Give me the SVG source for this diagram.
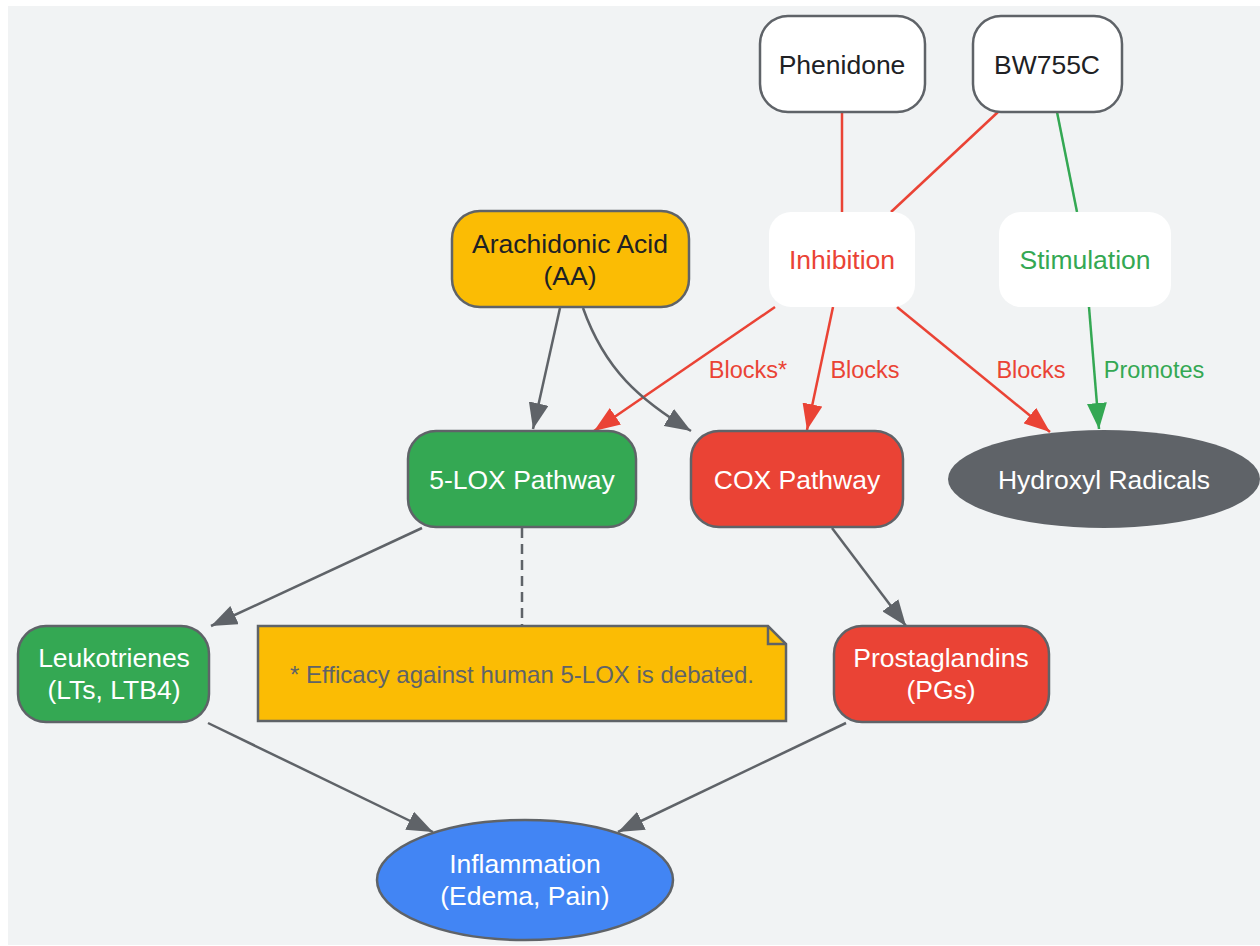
<svg xmlns="http://www.w3.org/2000/svg" width="1260" height="946" viewBox="0 0 1260 946">
<defs>
<style>
text{font-family:"Liberation Sans",Arial,sans-serif;text-anchor:middle;dominant-baseline:central}
.n{font-size:26.5px}
.e{font-size:23.5px}
.dark{fill:#202124}
.white{fill:#ffffff}
.box{stroke:#5f6368;stroke-width:2.5}
.c{fill:none;stroke-width:2.5}
.g{stroke:#5f6368}
.r{stroke:#ea4335}
.gr{stroke:#34a853}
</style>
<marker id="ag" viewBox="0 0 26 20" refX="26" refY="10" markerWidth="26" markerHeight="20" markerUnits="userSpaceOnUse" orient="auto"><path d="M0,0 L26,10 L0,20 z" fill="#5f6368"/></marker>
<marker id="ar" viewBox="0 0 26 20" refX="26" refY="10" markerWidth="26" markerHeight="20" markerUnits="userSpaceOnUse" orient="auto"><path d="M0,0 L26,10 L0,20 z" fill="#ea4335"/></marker>
<marker id="agr" viewBox="0 0 26 20" refX="26" refY="10" markerWidth="26" markerHeight="20" markerUnits="userSpaceOnUse" orient="auto"><path d="M0,0 L26,10 L0,20 z" fill="#34a853"/></marker>
</defs>
<rect x="0" y="0" width="1260" height="946" fill="#ffffff"/>
<rect x="8" y="6" width="1252" height="939" fill="#f1f3f4"/>

<g id="connectors">
<line class="c r" x1="842" y1="112" x2="842" y2="212"/>
<line class="c r" x1="998" y1="112" x2="891" y2="212"/>
<line class="c gr" x1="1057" y1="112" x2="1077" y2="212"/>
<line class="c r" x1="775" y1="307" x2="594" y2="431" marker-end="url(#ar)"/>
<line class="c r" x1="833" y1="307" x2="807" y2="430" marker-end="url(#ar)"/>
<line class="c r" x1="897" y1="307" x2="1050" y2="432" marker-end="url(#ar)"/>
<line class="c gr" x1="1089" y1="307" x2="1099" y2="429" marker-end="url(#agr)"/>
<line class="c g" x1="560" y1="308" x2="533" y2="429" marker-end="url(#ag)"/>
<path class="c g" d="M583,308 C605,370 640,400 691,431" marker-end="url(#ag)"/>
<line class="c g" x1="422" y1="528" x2="211" y2="626" marker-end="url(#ag)"/>
<line class="c g" x1="522" y1="528" x2="522" y2="626" stroke-dasharray="10,6"/>
<line class="c g" x1="832" y1="528" x2="906" y2="626" marker-end="url(#ag)"/>
<line class="c g" x1="208" y1="723" x2="433" y2="832" marker-end="url(#ag)"/>
<line class="c g" x1="846" y1="723" x2="618" y2="832" marker-end="url(#ag)"/>
<text class="e" x="748" y="370" fill="#ea4335">Blocks*</text>
<text class="e" x="865" y="370" fill="#ea4335">Blocks</text>
<text class="e" x="1031" y="370" fill="#ea4335">Blocks</text>
<text class="e" x="1154" y="370" fill="#34a853">Promotes</text>
</g>

<g id="phenidone">
<rect class="box" x="760" y="16" width="165" height="96" rx="28" fill="#ffffff"/>
<text class="n dark" x="842" y="65">Phenidone</text>
</g>
<g id="bw755c">
<rect class="box" x="973" y="16" width="149" height="96" rx="28" fill="#ffffff"/>
<text class="n dark" x="1047" y="65">BW755C</text>
</g>
<g id="inhibition">
<rect x="769" y="212" width="146" height="95" rx="22" fill="#ffffff"/>
<text class="n" x="842" y="260" fill="#ea4335">Inhibition</text>
</g>
<g id="stimulation">
<rect x="999" y="212" width="172" height="95" rx="22" fill="#ffffff"/>
<text class="n" x="1085" y="260" fill="#34a853">Stimulation</text>
</g>
<g id="aa">
<rect class="box" x="452" y="211" width="237" height="96" rx="28" fill="#fbbc04"/>
<text class="n dark" x="570" y="244">Arachidonic Acid</text>
<text class="n dark" x="570" y="276">(AA)</text>
</g>
<g id="lox">
<rect class="box" x="408" y="431" width="228" height="96" rx="28" fill="#34a853"/>
<text class="n white" x="522" y="480">5-LOX Pathway</text>
</g>
<g id="cox">
<rect class="box" x="691" y="431" width="212" height="96" rx="28" fill="#ea4335"/>
<text class="n white" x="797" y="480">COX Pathway</text>
</g>
<g id="hydroxyl">
<ellipse cx="1104" cy="479" rx="156" ry="49" fill="#5f6368"/>
<text class="n white" x="1104" y="480">Hydroxyl Radicals</text>
</g>
<g id="leukotrienes">
<rect class="box" x="18" y="626" width="191" height="96" rx="28" fill="#34a853"/>
<text class="n white" x="114" y="658">Leukotrienes</text>
<text class="n white" x="114" y="690">(LTs, LTB4)</text>
</g>
<g id="note">
<path class="box" d="M258,626 L768,626 L786,644 L786,721 L258,721 Z" fill="#fbbc04"/>
<path class="box" d="M768,626 L768,644 L786,644" fill="none"/>
<text x="522" y="674" font-size="24" fill="#5f6368">* Efficacy against human 5-LOX is debated.</text>
</g>
<g id="prostaglandins">
<rect class="box" x="834" y="626" width="215" height="96" rx="28" fill="#ea4335"/>
<text class="n white" x="941" y="658">Prostaglandins</text>
<text class="n white" x="941" y="690">(PGs)</text>
</g>
<g id="inflammation">
<ellipse class="box" cx="525" cy="880" rx="148" ry="60" fill="#4285f4"/>
<text class="n white" x="525" y="864">Inflammation</text>
<text class="n white" x="525" y="896">(Edema, Pain)</text>
</g>
</svg>
